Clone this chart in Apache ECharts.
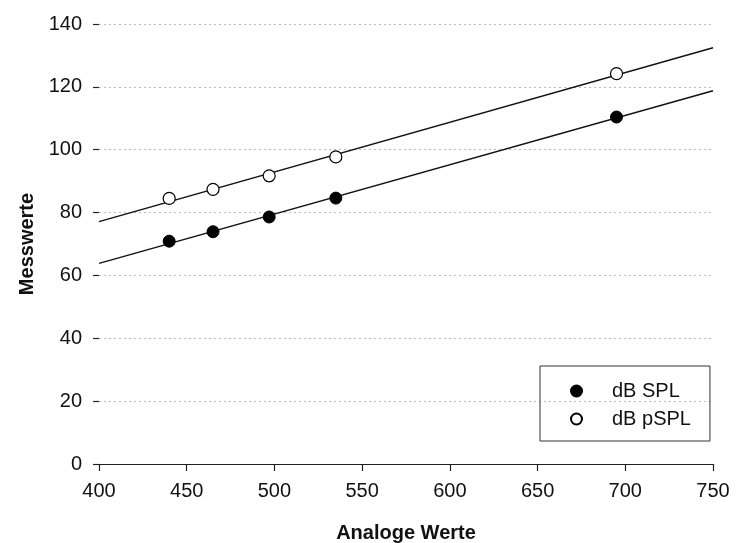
<!DOCTYPE html>
<html>
<head>
<meta charset="utf-8">
<script src="https://cdn.jsdelivr.net/npm/echarts@6/dist/echarts.min.js"></script>
<style>html,body{margin:0;padding:0;background:#fff}#c{width:740px;height:543px}</style>
</head>
<body>
<div id="c"></div>
<script>
const analogValues = [440, 465, 497, 535, 695];
const splValues = [70.9, 73.9, 78.6, 84.6, 110.4];
const pSplValues = [84.5, 87.4, 91.7, 97.7, 124.2];
const seriesNames = ['dB SPL', 'dB pSPL'];
const xTicks = { min: 400, max: 750, interval: 50 };
const yTicks = { min: 0, max: 140, interval: 20 };

function fit(xs, ys) {
  const n = xs.length;
  const mx = xs.reduce((a, b) => a + b, 0) / n;
  const my = ys.reduce((a, b) => a + b, 0) / n;
  let sxy = 0, sxx = 0;
  for (let i = 0; i < n; i++) { sxy += (xs[i] - mx) * (ys[i] - my); sxx += (xs[i] - mx) ** 2; }
  const b = sxy / sxx, a = my - b * mx;
  return [[xTicks.min, a + b * xTicks.min], [xTicks.max, a + b * xTicks.max]];
}
const pts = (ys) => analogValues.map((x, i) => [x, ys[i]]);
const FONT = "'Liberation Sans', Arial, sans-serif";

const chart = echarts.init(document.getElementById('c'), null, { renderer: 'canvas' });
chart.setOption({
  animation: false,
  backgroundColor: '#fff',
  grid: { left: 99, right: 27, top: 24, bottom: 79, containLabel: false, outerBoundsMode: 'none' },
  legend: {
    orient: 'vertical',
    left: 540, top: 366,
    data: [
      { name: seriesNames[0], icon: 'circle' },
      { name: seriesNames[1], icon: 'circle' }
    ],
    itemWidth: 11, itemHeight: 11, itemGap: 8,
    borderColor: '#333', borderWidth: 1, borderRadius: 0,
    padding: [15, 19, 12, 30],
    textStyle: { fontFamily: FONT, fontSize: 20, color: '#111', padding: [0, 0, 0, 25] },
    selectedMode: false
  },
  xAxis: {
    type: 'value', min: xTicks.min, max: xTicks.max, interval: xTicks.interval,
    name: 'Analoge Werte', nameLocation: 'middle', nameGap: 59,
    nameTextStyle: { fontFamily: FONT, fontSize: 20, fontWeight: 'bold', color: '#111' },
    axisLine: { show: true, onZero: false, lineStyle: { color: '#222', width: 1.2 } },
    axisTick: { show: true, inside: false, length: 7, lineStyle: { color: '#222', width: 1.2 } },
    axisLabel: { fontFamily: FONT, fontSize: 20, color: '#111', margin: 17 },
    splitLine: { show: false }
  },
  yAxis: {
    type: 'value', min: yTicks.min, max: yTicks.max, interval: yTicks.interval,
    name: 'Messwerte', nameLocation: 'middle', nameGap: 62, nameRotate: 90,
    nameTextStyle: { fontFamily: FONT, fontSize: 20, fontWeight: 'bold', color: '#111' },
    axisLine: { show: false },
    axisTick: { show: true, length: 6, lineStyle: { color: '#222', width: 1.2 } },
    axisLabel: { fontFamily: FONT, fontSize: 20, color: '#111', margin: 17 },
    splitLine: { show: true, lineStyle: { color: '#bbb', type: [2, 3], width: 1 } }
  },
  series: [
    { type: 'line', data: fit(analogValues, pSplValues), showSymbol: false, silent: true,
      lineStyle: { color: '#111', width: 1.4 }, z: 1 },
    { type: 'line', data: fit(analogValues, splValues), showSymbol: false, silent: true,
      lineStyle: { color: '#111', width: 1.4 }, z: 1 },
    { name: seriesNames[0], type: 'scatter', data: pts(splValues), symbol: 'circle', symbolSize: 12,
      itemStyle: { color: '#000', borderColor: '#000', borderWidth: 1, opacity: 1 }, z: 3 },
    { name: seriesNames[1], type: 'scatter', data: pts(pSplValues), symbol: 'circle', symbolSize: 12,
      itemStyle: { color: '#fff', borderColor: '#000', borderWidth: 1.2, opacity: 1 }, z: 3 }
  ]
});
</script>
</body>
</html>
